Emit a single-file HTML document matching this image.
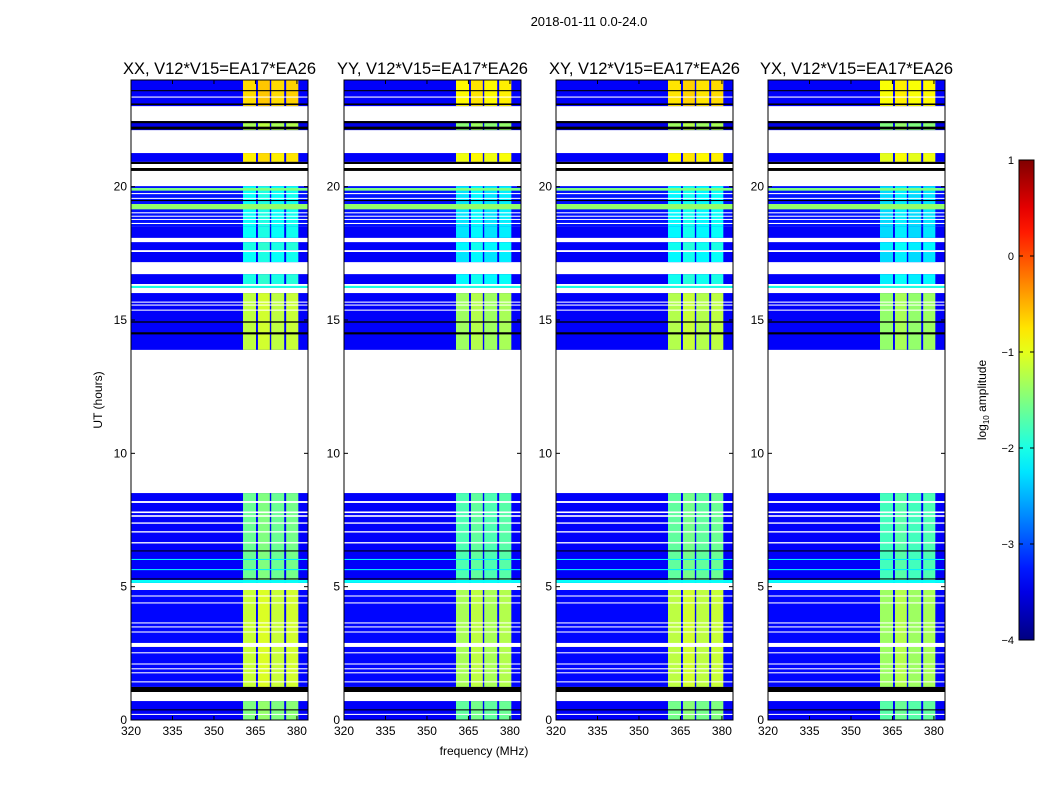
<!DOCTYPE html>
<html><head><meta charset="utf-8">
<style>
body{margin:0;background:#fff;}
svg{display:block;font-family:"Liberation Sans",sans-serif;}
</style></head>
<body>
<svg id="fig" width="1050" height="800" viewBox="0 0 1050 800">
<text x="589" y="26" font-size="13" text-anchor="middle">2018-01-11 0.0-24.0</text>
<text x="484" y="755" font-size="12" text-anchor="middle">frequency (MHz)</text>
<text x="102" y="400" font-size="12" text-anchor="middle" transform="rotate(-90 102 400)">UT (hours)</text>
<text x="986" y="400" font-size="12" text-anchor="middle" transform="rotate(-90 986 400)">log<tspan font-size="8" dy="3">10</tspan><tspan dy="-3"> amplitude</tspan></text>
<g id="panels"></g>
<g id="cbar"></g>
</svg>
<script>
const panelTitles = ["XX, V12*V15=EA17*EA26","YY, V12*V15=EA17*EA26","XY, V12*V15=EA17*EA26","YX, V12*V15=EA17*EA26"];
const panelBandOffset = [0, -0.15, -0.05, -0.2];
const yTicks = [0,5,10,15,20];
const xTicks = [320,335,350,365,380];
const bandCols = [[360.5,365.2],[365.9,370.2],[370.7,375.4],[376.1,380.5]];
const bandColOffset = [0, 0.1, 0, 0.05];
// [h0,h1,background log amp,band log amp]
const segments = [
 [23.02,24,-3.4,-0.7],[22.12,22.46,-3.5,-1.3],[20.93,21.26,-3.4,-0.8],
 [18.52,20.02,-3.3,-2.1],[18.08,18.52,-3.4,-2.1],[17.62,17.92,-3.4,-2.0],
 [17.17,17.55,-3.4,-2.1],[16.35,16.72,-3.4,-2.0],[13.88,16.01,-3.4,-1.2],
 [5.14,8.51,-3.4,-1.6],[1.24,4.875,-3.35,-1.15],[0,0.71,-3.4,-1.5]
];
// full-width rows: [h0,h1,level] ('w' = blank, 'k' = black)
const rows = [
 [23.34,23.38,'w'],[23.58,23.62,'k'],[23.06,23.12,'k'],[22.38,22.46,'k'],[22.15,22.25,'k'],
 [20.85,20.93,'k'],[20.59,20.7,'k'],[19.85,19.95,-1.5],[19.72,19.76,'w'],[19.55,19.58,'w'],
 [19.46,19.5,'k'],[19.15,19.35,-1.4],[19.0,19.04,'w'],[18.88,18.91,'w'],[18.76,18.79,'w'],
 [18.6,18.64,'w'],[16.2,16.28,-2.0],[15.65,15.69,'w'],[15.54,15.58,'w'],[15.35,15.39,'w'],
 [14.9,14.95,'k'],[14.46,14.54,'k'],
 [8.14,8.21,'w'],[7.76,7.82,'w'],[7.62,7.68,'w'],[7.36,7.41,'w'],[7.03,7.08,'w'],[6.62,6.67,'w'],
 [6.32,6.36,'k'],[6.0,6.04,-2.2],[5.62,5.66,-2.2],[5.27,5.31,'k'],[5.14,5.25,-2.1],
 [4.63,4.67,'w'],[4.37,4.41,'w'],[3.62,3.66,'w'],[3.47,3.51,'w'],[3.28,3.32,'w'],[2.74,2.89,'w'],
 [2.5,2.54,'w'],[2.08,2.12,'w'],[1.9,1.94,'w'],[1.75,1.79,'w'],[1.41,1.45,'w'],
 [1.05,1.24,'k'],[0.36,0.4,'k'],[0.19,0.23,'w']
];
const cbTicks = [1,0,-1,-2,-3,-4];
const panelX = [131,344,556,768], PW=177, PT=80, PH=640;
const vmin=-4, vmax=1, fmin=320, fmax=384, hmax=24;
const NS="http://www.w3.org/2000/svg";
function cl(v){return Math.max(0,Math.min(1,v));}
function jet(v){const t=cl((v-vmin)/(vmax-vmin));
 const r=cl(1.5-Math.abs(4*t-3)),g=cl(1.5-Math.abs(4*t-2)),b=cl(1.5-Math.abs(4*t-1));
 return `rgb(${Math.round(r*255)},${Math.round(g*255)},${Math.round(b*255)})`;}
function mk(tag,attrs,parent){const e=document.createElementNS(NS,tag);for(const k in attrs)e.setAttribute(k,attrs[k]);parent.appendChild(e);return e;}
const root=document.getElementById('panels');
panelTitles.forEach((title,p)=>{
 const x0=panelX[p];
 const xs=f=>x0+(f-fmin)/(fmax-fmin)*PW;
 const ys=h=>PT+PH-(h/hmax)*PH;
 const g=mk('g',{},root);
 
 
 const t=mk('text',{x:x0+PW/2,y:74,'font-size':16.5,'text-anchor':'middle'},g);t.textContent=title;
 
 
 segments.forEach(s=>{
  const r=mk('rect',{x:x0,y:ys(s[1]),width:PW,height:ys(s[0])-ys(s[1]),fill:jet(s[2])},g);
  
  
  bandCols.forEach((c,i)=>{
   const b=mk('rect',{x:xs(c[0]),y:ys(s[1]),width:xs(c[1])-xs(c[0]),height:ys(s[0])-ys(s[1]),fill:jet(s[3]+bandColOffset[i]+panelBandOffset[p])},g);
   
   
  });
 });
 rows.forEach(r=>{
  const fill=r[2]==='w'?'#fff':r[2]==='k'?'#000':jet(r[2]);
  const e=mk('rect',{x:x0,y:ys(r[1]),width:PW,height:Math.max(1,ys(r[0])-ys(r[1])),fill:fill},g);
  
  
 });
 const fr=mk('rect',{x:x0,y:PT,width:PW,height:PH,fill:'none',stroke:'#000','stroke-width':1},g);
 
 
 yTicks.forEach(v=>{
  const y=ys(v);
  mk('line',{x1:x0,x2:x0+4,y1:y,y2:y,stroke:'#000'},g);
  mk('line',{x1:x0+PW-4,x2:x0+PW,y1:y,y2:y,stroke:'#000'},g);
  const l=mk('text',{x:x0-4,y:y+4,'font-size':12,'text-anchor':'end'},g);l.textContent=v;
  
  
 });
 xTicks.forEach(v=>{
  const x=xs(v);
  mk('line',{x1:x,x2:x,y1:PT+PH,y2:PT+PH-4,stroke:'#000'},g);
  mk('line',{x1:x,x2:x,y1:PT,y2:PT+4,stroke:'#000'},g);
  const l=mk('text',{x:x,y:PT+PH+15,'font-size':12,'text-anchor':'middle'},g);l.textContent=v;
  
  
 });
});
// colorbar
const cb=document.getElementById('cbar');


const CX=1019,CW=15,CT=160,CH=480;
const defs=mk('defs',{},cb);
const grad=mk('linearGradient',{id:'jetg',x1:0,y1:1,x2:0,y2:0},defs);
for(let i=0;i<=20;i++){mk('stop',{offset:i/20,'stop-color':jet(vmin+(vmax-vmin)*i/20)},grad);}
mk('rect',{x:CX,y:CT,width:CW,height:CH,fill:'url(#jetg)',stroke:'#000'},cb);
cbTicks.forEach(v=>{
 const y=CT+CH-(v-vmin)/(vmax-vmin)*CH;
 mk('line',{x1:CX,x2:CX+4,y1:y,y2:y,stroke:'#000'},cb);
 mk('line',{x1:CX+CW-4,x2:CX+CW,y1:y,y2:y,stroke:'#000'},cb);
 const l=mk('text',{x:CX-5,y:y+4,'font-size':11,'text-anchor':'end'},cb);
 l.textContent=v<0?'\u2212'+(-v):String(v);
 
 
});
</script>
</body></html>
